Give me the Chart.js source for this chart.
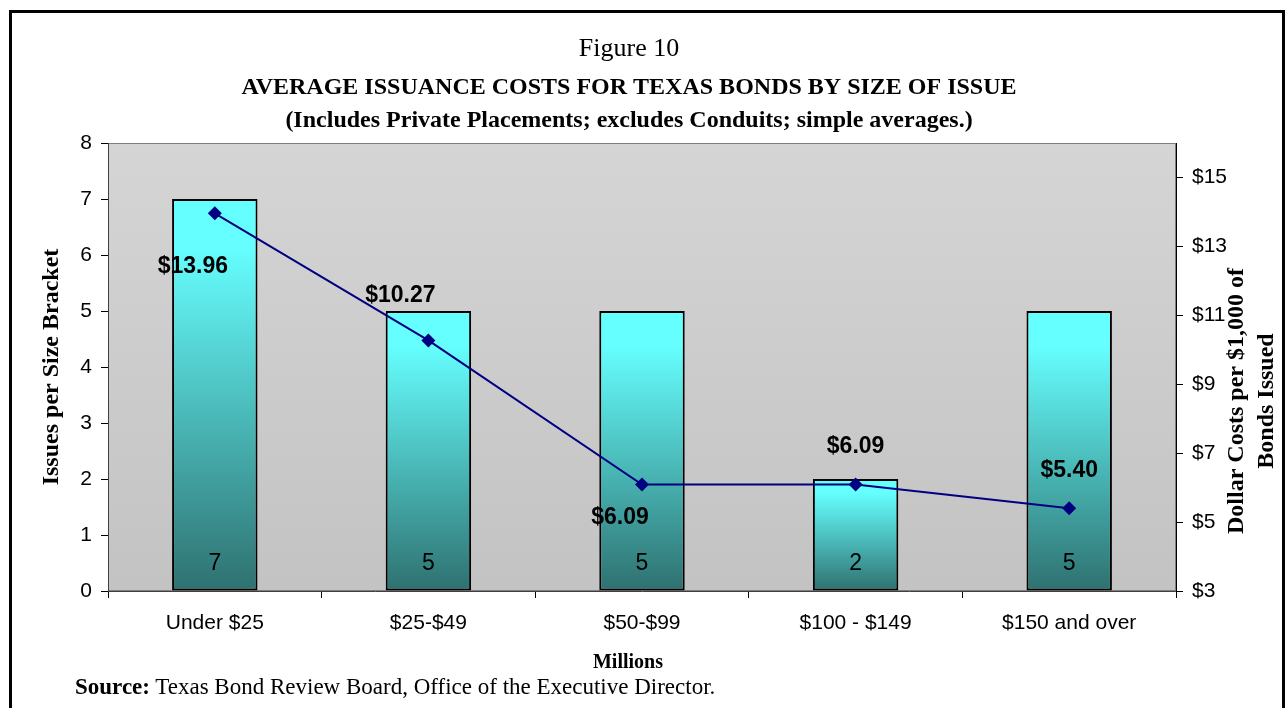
<!DOCTYPE html>
<html>
<head>
<meta charset="utf-8">
<script src="https://cdn.jsdelivr.net/npm/chart.js@4/dist/chart.umd.min.js"></script>
<style>
  html, body { margin: 0; padding: 0; background: #fff; }
  #wrap { position: relative; width: 1288px; height: 708px; overflow: hidden; }
  #frame { position: absolute; left: 9px; top: 10px; width: 1270px; height: 720px; border: 3px solid #000; pointer-events: none; }
  #source { position: absolute; left: 75px; top: 674px; font: 23px "Liberation Serif", serif; color: #000; white-space: nowrap; }
</style>
</head>
<body>
<div id="wrap">
  <canvas id="costChart" width="1288" height="708"></canvas>
  <div id="frame"></div>
  <div id="source"><b>Source:</b> Texas Bond Review Board, Office of the Executive Director.</div>
</div>
<script>
// data
const categories = ['Under $25', '$25-$49', '$50-$99', '$100 - $149', '$150 and over'];
const issueCounts = [7, 5, 5, 2, 5];
const avgCosts = [13.96, 10.27, 6.09, 6.09, 5.40];
const countTicks = [0, 1, 2, 3, 4, 5, 6, 7, 8];
const costTicks = [3, 5, 7, 9, 11, 13, 15];

const SERIF = '"Liberation Serif", "Times New Roman", serif';
Chart.defaults.font.family = '"Liberation Sans", Arial, sans-serif';
Chart.defaults.color = '#000';

// grey plot area + thin frame
const plotBackground = {
  id: 'plotBackground',
  beforeDraw(chart) {
    const { ctx, chartArea: a } = chart;
    const g = ctx.createLinearGradient(0, a.top, 0, a.bottom);
    g.addColorStop(0, '#d5d5d5');
    g.addColorStop(1, '#c3c3c3');
    ctx.save();
    ctx.fillStyle = g;
    ctx.fillRect(a.left, a.top, a.right - a.left, a.bottom - a.top);
    ctx.strokeStyle = '#7f7f7f';
    ctx.lineWidth = 1;
    ctx.strokeRect(a.left + 0.5, a.top + 0.5, a.right - a.left - 1, a.bottom - a.top - 1);
    ctx.restore();
  }
};

// counts at the foot of each bar, dollar labels near each point
const valueLabels = {
  id: 'valueLabels',
  afterDatasetsDraw(chart, args, opts) {
    const { ctx } = chart;
    ctx.save();
    ctx.textAlign = 'center';
    ctx.textBaseline = 'middle';
    ctx.fillStyle = '#000';
    ctx.font = '23px "Liberation Sans", Arial, sans-serif';
    chart.getDatasetMeta(1).data.forEach((bar, i) => {
      ctx.fillText(String(issueCounts[i]), bar.x, bar.base - 27);
    });
    ctx.font = 'bold 23px "Liberation Sans", Arial, sans-serif';
    chart.getDatasetMeta(0).data.forEach((pt, i) => {
      const [dx, dy] = opts.shift[i];
      ctx.fillText('$' + avgCosts[i].toFixed(2), pt.x + dx, pt.y + dy);
    });
    ctx.restore();
  }
};

// axis titles: "Millions" sits left of centre, right title reads bottom-to-top
const axisTitles = {
  id: 'axisTitles',
  afterDraw(chart) {
    const { ctx } = chart;
    ctx.save();
    ctx.textAlign = 'center';
    ctx.textBaseline = 'middle';
    ctx.fillStyle = '#000';
    ctx.font = 'bold 20px ' + SERIF;
    ctx.fillText('Millions', 628, 663);
    ctx.translate(1252, 401);
    ctx.rotate(-Math.PI / 2);
    ctx.font = 'bold 24px ' + SERIF;
    ctx.fillText('Dollar Costs per $1,000 of', 0, -15);
    ctx.fillText('Bonds Issued', 0, 15);
    ctx.restore();
  }
};

function barFill(c) {
  const chart = c.chart;
  if (!chart.chartArea || c.type !== 'data') return '#66ffff';
  const y = chart.scales.y;
  const top = y.getPixelForValue(c.raw);
  const base = y.getPixelForValue(0);
  const g = chart.ctx.createLinearGradient(0, top, 0, base);
  g.addColorStop(0, '#66ffff');
  g.addColorStop(0.12, '#66ffff');
  g.addColorStop(1, '#2e7170');
  return g;
}

new Chart(document.getElementById('costChart'), {
  data: {
    labels: categories,
    datasets: [
      {
        type: 'line',
        label: 'Dollar Costs per $1,000',
        data: avgCosts,
        yAxisID: 'y1',
        borderColor: '#000080',
        backgroundColor: '#000080',
        borderWidth: 2,
        pointStyle: 'rectRot',
        pointRadius: 7,
        pointBorderWidth: 0,
        tension: 0,
        order: 1
      },
      {
        type: 'bar',
        label: 'Issues per Size Bracket',
        data: issueCounts,
        yAxisID: 'y',
        backgroundColor: barFill,
        borderColor: '#000',
        borderWidth: 2,
        borderSkipped: false,
        barPercentage: 0.4,
        categoryPercentage: 1,
        order: 2
      }
    ]
  },
  options: {
    responsive: false,
    animation: false,
    layout: { padding: { top: 0, left: 0, right: 30, bottom: 32 } },
    plugins: {
      legend: { display: false },
      tooltip: { enabled: false },
      title: {
        display: true,
        text: 'Figure 10',
        color: '#000',
        font: { family: SERIF, size: 26, weight: 'normal', lineHeight: 1.2 },
        padding: { top: 34, bottom: 0 }
      },
      subtitle: {
        display: true,
        text: ['AVERAGE ISSUANCE COSTS FOR TEXAS BONDS BY SIZE OF ISSUE',
               '(Includes Private Placements; excludes Conduits; simple averages.)'],
        color: '#000',
        font: { family: SERIF, size: 24, weight: 'bold', lineHeight: 1.375 },
        padding: { top: 6, bottom: 5.8 }
      },
      valueLabels: { shift: [[-22, 53], [-28, -45], [-22, 33], [0, -38], [0, -38]] }
    },
    scales: {
      x: {
        grid: { display: true, drawOnChartArea: false, offset: true, tickLength: 7, color: '#000' },
        border: { display: true, color: '#404040', width: 1 },
        ticks: { font: { size: 21 }, padding: 13, maxRotation: 0 },
        afterFit(s) { s.height = 85; }
      },
      y: {
        position: 'left',
        min: 0,
        max: 8,
        grid: { display: true, drawOnChartArea: false, tickLength: 7, color: '#000' },
        border: { display: true, color: '#404040', width: 1 },
        ticks: { font: { size: 21 }, padding: 9 },
        afterBuildTicks(s) { s.ticks = countTicks.map(v => ({ value: v })); },
        title: { display: true, text: 'Issues per Size Bracket', font: { family: SERIF, size: 24, weight: 'bold' }, padding: { top: 37, bottom: 0 } },
        afterFit(s) { s.width = 108; }
      },
      y1: {
        position: 'right',
        min: 3,
        max: 16,
        grid: { display: true, drawOnChartArea: false, tickLength: 7, color: '#000' },
        border: { display: true, color: '#000', width: 1 },
        ticks: { font: { size: 21 }, padding: 9, callback: v => '$' + v },
        afterBuildTicks(s) { s.ticks = costTicks.map(v => ({ value: v })); },
        afterFit(s) { s.width = 82; }
      }
    }
  },
  plugins: [plotBackground, valueLabels, axisTitles]
});
</script>
</body>
</html>
